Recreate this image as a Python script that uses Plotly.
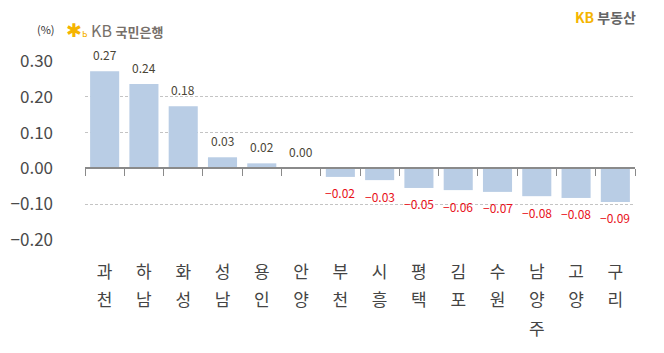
import plotly.graph_objects as go

regions = ["과천", "하남", "화성", "성남", "용인", "안양", "부천", "시흥", "평택", "김포", "수원", "남양주", "고양", "구리"]
values = [0.272, 0.236, 0.174, 0.031, 0.014, 0.0005, -0.024, -0.033, -0.055, -0.061, -0.066, -0.078, -0.083, -0.094]
labels = ["0.27", "0.24", "0.18", "0.03", "0.02", "0.00", "-0.02", "-0.03", "-0.05", "-0.06", "-0.07", "-0.08", "-0.08", "-0.09"]
y_ticks = [-0.2, -0.1, 0.0, 0.1, 0.2, 0.3]
y_ticklabels = ["\u22120.20", "\u22120.10", "0.00", "0.10", "0.20", "0.30"]

FONT = "Noto Sans CJK KR"
vertical = ["<br>".join("<span style='font-size:17px'>%s</span>" % c for c in r) for r in regions]

fig = go.Figure()
fig.add_trace(go.Bar(
    x=regions, y=values, marker=dict(color="#b9cde5", line=dict(width=0)),
    hoverinfo="skip",
))

for r, v, lab in zip(regions, values, labels):
    neg = v < 0
    fig.add_annotation(
        x=r, y=v, text=lab.replace("-", "\u2212"), showarrow=False,
        yshift=-16 if neg else 17,
        font=dict(family=FONT, size=12, color="#e8111a" if neg else "#4a4536"),
    )

fig.update_layout(
    width=664, height=353,
    margin=dict(l=85, r=29, t=61, b=113),
    paper_bgcolor="white", plot_bgcolor="white",
    bargap=0.26, showlegend=False,
    font=dict(family=FONT),
    xaxis=dict(
        type="category", anchor="free", position=0.4,
        showline=True, linecolor="#8a8a8a", linewidth=1.5,
        ticks="outside", tickson="boundaries", ticklen=7, tickcolor="#8a8a8a", tickwidth=1.3,
        tickmode="array", tickvals=regions, ticktext=vertical,
        tickfont=dict(family=FONT, size=22, color="#444"),
        ticklabelstandoff=82, showgrid=False, zeroline=False,
    ),
    yaxis=dict(
        range=[-0.2008, 0.3008], tickmode="array", tickvals=y_ticks, ticktext=y_ticklabels,
        showgrid=True, gridcolor="#c4c4c4", griddash="3px,2px", gridwidth=1,
        zeroline=False, showline=False, ticks="",
        tickfont=dict(family=FONT, size=17, color="#4a4a4a"),
        ticklabelstandoff=31,
    ),
)

# header texts
fig.add_annotation(xref="paper", yref="paper", x=-0.091, y=1.179, xanchor="left", yanchor="middle",
                   text="(%)", showarrow=False, font=dict(family=FONT, size=11, color="#333"))
fig.add_annotation(xref="paper", yref="paper", x=-0.038, y=1.179, xanchor="left", yanchor="middle",
                   text="<span style='color:#f5b400;font-size:19px'>✱</span><span style='color:#f5b400;font-size:10px'>ь</span> "
                        "<span style='color:#77706a'>KB</span> <b style='color:#77706a;font-size:13px'>국민은행</b>",
                   showarrow=False, font=dict(family=FONT, size=16, color="#77706a"))
fig.add_annotation(xref="paper", yref="paper", x=1.005, y=1.246, xanchor="right", yanchor="middle",
                   text="<b><span style='color:#f5b400'>KB</span> <span style='color:#666'>부동산</span></b>",
                   showarrow=False, font=dict(family=FONT, size=14))

fig.write_html("out.html")
